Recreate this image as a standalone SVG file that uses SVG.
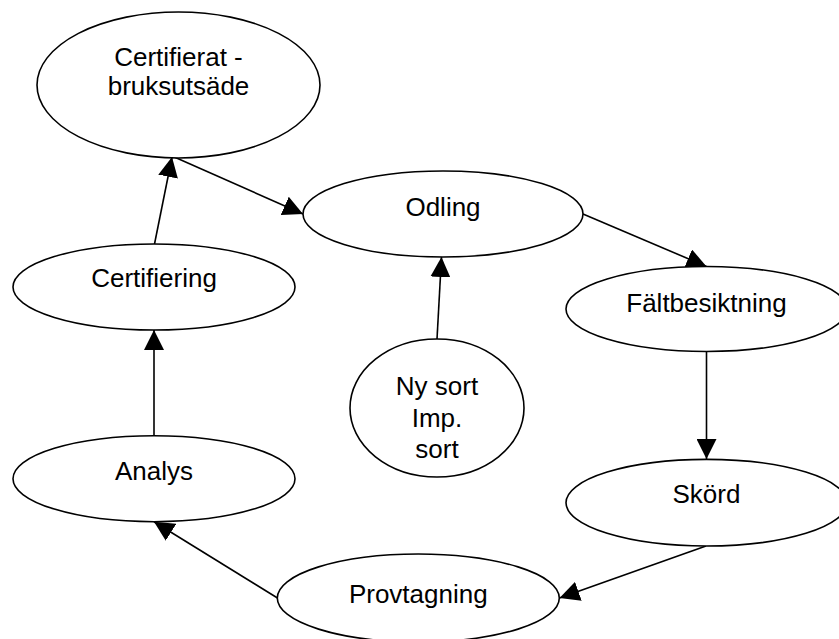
<svg xmlns="http://www.w3.org/2000/svg" width="839" height="639" viewBox="0 0 839 639">
<defs>
<marker id="arr" markerUnits="userSpaceOnUse" markerWidth="20" markerHeight="20" refX="20" refY="10" orient="auto" viewBox="0 0 20 20">
<path d="M0,0 L20,10 L0,20 Z" fill="#000"/>
</marker>
<style>
.n{fill:#fff;stroke:#000;stroke-width:1.6}
.c{fill:none;stroke:#000;stroke-width:1.6;marker-end:url(#arr)}
text{font-family:"Liberation Sans",Arial,sans-serif;font-size:26px;fill:#000;text-anchor:middle}
</style>
</defs>
<rect width="839" height="639" fill="#fff"/>
<g id="connectors">
<line class="c" x1="154.5" y1="244" x2="172" y2="157"/>
<line class="c" x1="172" y1="156" x2="303" y2="214"/>
<line class="c" x1="583" y1="214" x2="706.5" y2="266.5"/>
<line class="c" x1="437" y1="339" x2="441.5" y2="257"/>
<line class="c" x1="706.5" y1="351.5" x2="706.5" y2="459"/>
<line class="c" x1="706" y1="546" x2="559.5" y2="598"/>
<line class="c" x1="277.5" y1="598" x2="154" y2="521.7"/>
<line class="c" x1="154" y1="435.5" x2="154" y2="330"/>
</g>
<g id="certifierat">
<ellipse class="n" cx="178.5" cy="85" rx="141.5" ry="73"/>
<text x="178.5" y="65.5">Certifierat -</text>
<text x="178.5" y="95">bruksutsäde</text>
</g>
<g id="odling">
<ellipse class="n" cx="443" cy="214" rx="140" ry="43"/>
<text x="443" y="215.7">Odling</text>
</g>
<g id="certifiering">
<ellipse class="n" cx="154" cy="287" rx="141" ry="43"/>
<text x="154" y="286.7">Certifiering</text>
</g>
<g id="faltbesiktning">
<ellipse class="n" cx="706.5" cy="309" rx="140.5" ry="42.5"/>
<text x="706.5" y="311.7">Fältbesiktning</text>
</g>
<g id="nysort">
<ellipse class="n" cx="437" cy="408" rx="87" ry="69"/>
<text x="437" y="395">Ny sort</text>
<text x="437" y="426.5">Imp.</text>
<text x="437" y="457.5">sort</text>
</g>
<g id="analys">
<ellipse class="n" cx="154" cy="478.7" rx="141" ry="43"/>
<text x="154" y="480">Analys</text>
</g>
<g id="skord">
<ellipse class="n" cx="706.5" cy="502.7" rx="140.5" ry="43.3"/>
<text x="706.5" y="503.3">Skörd</text>
</g>
<g id="provtagning">
<ellipse class="n" cx="418.3" cy="598" rx="141" ry="44"/>
<text x="418.3" y="603.3">Provtagning</text>
</g>
</svg>
